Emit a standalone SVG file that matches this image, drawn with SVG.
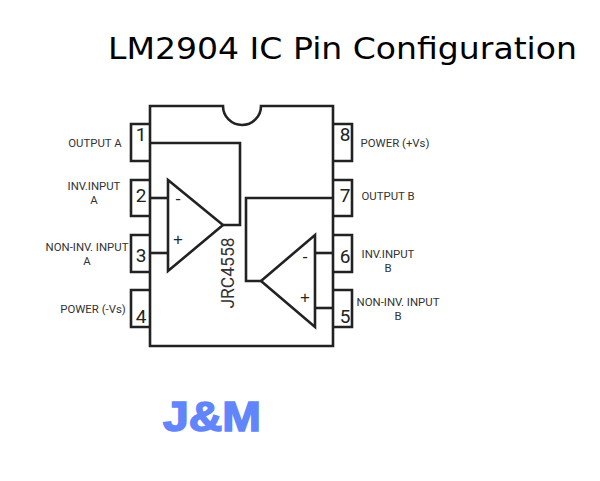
<svg xmlns="http://www.w3.org/2000/svg" width="600" height="481" viewBox="0 0 600 481">
<style>
.l{fill:none;stroke:#222;stroke-width:2.6;stroke-linejoin:miter}
.t{font-family:"Roboto","Liberation Sans",sans-serif;font-size:11.4px;fill:#333;text-anchor:middle}
.n{font-family:"Roboto","Liberation Sans",sans-serif;font-size:19px;fill:#222;text-anchor:middle}
.s{font-family:"Liberation Sans",sans-serif;font-size:17px;fill:#222;text-anchor:middle}
</style>
<rect width="600" height="481" fill="#fff"/>
<text id="title" x="108" y="59" font-family="DejaVu Sans, sans-serif" font-size="31" fill="#000" textLength="469" lengthAdjust="spacingAndGlyphs">LM2904 IC Pin Configuration</text>
<g id="body"><path class="l" d="M150 106H223A19 19 0 0 0 261 106H333V346H150Z"/>
<text x="234" y="273" transform="rotate(-90 234 273)" font-family="Roboto, Liberation Sans, sans-serif" font-size="17.5" fill="#333" text-anchor="middle">JRC4558</text></g>
<g id="pin1"><path class="l" d="M150 124H131V161H150"/><text class="n" x="141" y="141">1</text><text class="t" x="95" y="147">OUTPUT A</text></g>
<g id="pin2"><path class="l" d="M150 180H131V216H150"/><text class="n" x="141" y="202">2</text><text class="t" x="94" y="190">INV.INPUT</text><text class="t" x="94" y="204">A</text></g>
<g id="pin3"><path class="l" d="M150 235H131V272H150"/><text class="n" x="141" y="262">3</text><text class="t" x="87" y="251">NON-INV. INPUT</text><text class="t" x="87" y="265">A</text></g>
<g id="pin4"><path class="l" d="M150 290H131V327H150"/><text class="n" x="141" y="323">4</text><text class="t" x="93" y="313">POWER (-Vs)</text></g>
<g id="pin8"><path class="l" d="M333 124H352V161H333"/><text class="n" x="345" y="141">8</text><text class="t" x="395" y="147">POWER (+Vs)</text></g>
<g id="pin7"><path class="l" d="M333 180H352V216H333"/><text class="n" x="345" y="202">7</text><text class="t" x="388" y="200">OUTPUT B</text></g>
<g id="pin6"><path class="l" d="M333 235H352V272H333"/><text class="n" x="345" y="263">6</text><text class="t" x="388" y="258">INV.INPUT</text><text class="t" x="388" y="272">B</text></g>
<g id="pin5"><path class="l" d="M333 290H352V327H333"/><text class="n" x="345" y="323">5</text><text class="t" x="398" y="306">NON-INV. INPUT</text><text class="t" x="398" y="320">B</text></g>
<g id="opampA"><path class="l" d="M168 180V271L223 225Z"/><text class="s" x="178" y="204">-</text><text class="s" x="178" y="245">+</text></g>
<g id="opampB"><path class="l" d="M315 235V327L261 281Z"/><text class="s" x="305" y="262">-</text><text class="s" x="305" y="303">+</text></g>
<g id="connectors"><path class="l" d="M150 143H240V225H223"/><path class="l" d="M150 198H168"/><path class="l" d="M150 253H168"/><path class="l" d="M333 198H246V281H261"/><path class="l" d="M315 253H333"/><path class="l" d="M315 308H333"/></g>
<g id="logo"><text x="163" y="431" font-family="Liberation Sans, sans-serif" font-weight="bold" font-size="43" fill="#6385fb" stroke="#6385fb" stroke-width="1.6" textLength="98" lengthAdjust="spacingAndGlyphs">J&amp;M</text></g>
</svg>
